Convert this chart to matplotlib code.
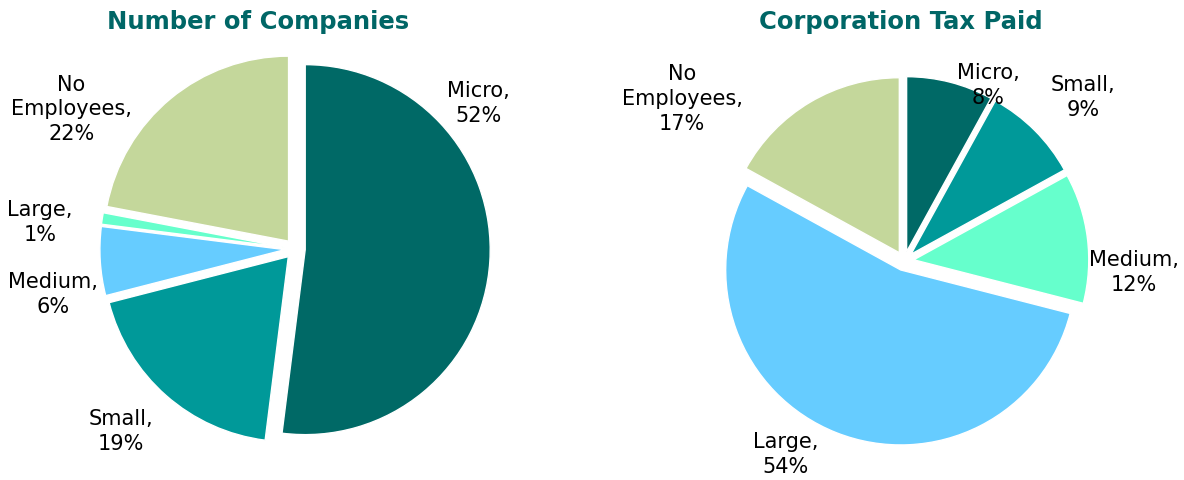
import matplotlib.pyplot as plt

categories = ['Micro', 'Small', 'Medium', 'Large', 'No\nEmployees']
companies_pct = [52, 19, 6, 1, 22]
tax_pct = [8, 9, 12, 54, 17]

colors_left = ['#006966', '#009999', '#66CCFF', '#66FFCC', '#C4D79B']
colors_right = ['#006966', '#009999', '#66FFCC', '#66CCFF', '#C4D79B']

# label spots (in pie radius units) picked to look like the excel layout
spots_left = [(0.99, 0.79), (-0.94, -0.98), (-1.31, -0.24), (-1.38, 0.15), (-1.21, 0.76)]
spots_right = [(0.48, 1.01), (1.02, 0.94), (1.31, -0.06), (-0.68, -1.10), (-1.27, 0.93)]

plt.rcParams['font.family'] = ['DejaVu Sans']
fig = plt.figure(figsize=(11.84, 4.81), dpi=100)

ax1 = fig.add_axes([0.0148, 0.0187, 0.4688, 0.9231])
ax2 = fig.add_axes([0.542, 0.0187, 0.4434, 0.8732])


def draw(ax, vals, colors, spots):
    ax.pie(vals, colors=colors, startangle=90, counterclock=False,
           explode=[0.055] * len(vals),
           wedgeprops=dict(edgecolor='white', linewidth=1.0))
    for c, v, (x, y) in zip(categories, vals, spots):
        ax.text(x, y, f'{c},\n{v}%', fontsize=15, ha='center', va='center',
                linespacing=1.3)
    ax.set_aspect('equal')
    ax.set_xlim(-1.5, 1.5)
    ax.set_ylim(-1.2, 1.2)


draw(ax1, companies_pct, colors_left, spots_left)
draw(ax2, tax_pct, colors_right, spots_right)

fig.text(0.218, 0.955, 'Number of Companies', fontsize=17.5, fontweight='bold',
         color='#006666', ha='center', va='center')
fig.text(0.761, 0.955, 'Corporation Tax Paid', fontsize=17.5, fontweight='bold',
         color='#006666', ha='center', va='center')

fig.savefig('out.png', dpi=100)
